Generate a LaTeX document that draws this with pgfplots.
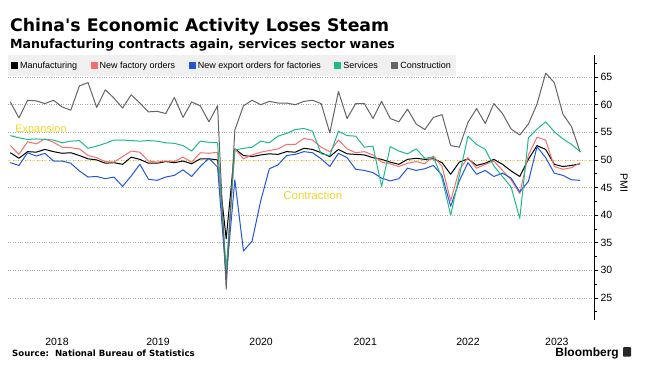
\documentclass[border=0pt]{standalone}
\usepackage{pgfplots}
\usepackage{pgfplotstable}
\pgfplotsset{compat=1.18}
\usepackage{fontspec}
\setmainfont{Liberation Sans}
\newfontfamily\titlefont{DejaVu Sans}
\definecolor{cmfg}{RGB}{0,0,0}
\definecolor{cord}{RGB}{245,110,110}
\definecolor{cexp}{RGB}{34,85,220}
\definecolor{csvc}{RGB}{30,186,140}
\definecolor{ccon}{RGB}{100,100,100}
\definecolor{cyel}{RGB}{242,214,40}
\definecolor{cyeldash}{RGB}{248,228,110}
\definecolor{clegbg}{RGB}{240,240,240}

\pgfplotstableread{
idx mfg ord exp svc con
0 51.3 52.6 49.5 54.4 60.5
1 50.3 51.0 49.0 54.0 57.6
2 51.5 53.3 51.3 53.7 60.8
3 51.4 52.9 50.7 53.8 60.7
4 51.9 53.8 51.2 53.7 60.2
5 51.5 53.2 49.8 53.6 60.8
6 51.2 52.3 49.8 53.1 59.6
7 51.3 52.2 49.4 53.4 59.0
8 50.8 52.0 48.0 53.5 63.4
9 50.2 50.8 46.9 52.1 64.0
10 50.0 50.4 47.0 52.5 59.5
11 49.4 49.7 46.6 53.0 62.7
12 49.5 49.6 46.9 53.6 61.2
13 49.2 50.6 45.2 53.6 59.4
14 50.5 51.6 47.1 53.5 61.8
15 50.1 51.4 49.2 53.4 60.3
16 49.4 49.8 46.5 53.5 58.7
17 49.4 49.6 46.3 53.4 58.8
18 49.7 49.8 46.9 53.1 58.4
19 49.5 49.7 47.2 53.0 61.3
20 49.8 50.5 48.2 52.6 57.7
21 49.3 49.6 47.0 51.6 60.5
22 50.2 51.3 48.8 53.4 59.8
23 50.2 51.2 50.3 53.2 56.9
24 50.0 51.4 48.7 53.1 59.8
25 35.7 29.3 28.7 30.1 26.6
26 52.0 52.0 46.4 51.8 55.4
27 50.8 50.2 33.5 52.1 59.8
28 50.6 50.9 35.3 52.3 60.8
29 50.9 51.4 42.6 53.4 60.0
30 51.1 51.7 48.4 53.1 60.6
31 51.0 52.0 49.1 54.3 60.3
32 51.5 52.8 50.8 54.8 60.3
33 51.4 52.8 51.0 55.5 60.0
34 52.1 53.9 51.5 55.7 60.6
35 51.9 53.6 51.3 55.2 60.8
36 51.3 52.3 50.2 51.1 60.2
37 50.6 51.5 48.8 50.8 54.9
38 51.9 53.6 51.2 55.2 62.4
39 51.1 52.0 50.4 54.4 57.5
40 51.0 51.3 48.3 54.3 60.2
41 50.9 51.5 48.1 52.3 60.2
42 50.4 50.9 47.7 52.5 57.5
43 50.1 49.6 46.7 45.2 60.6
44 49.6 49.3 46.2 52.4 57.5
45 49.2 48.8 46.6 51.6 56.9
46 50.1 49.4 48.5 51.1 59.2
47 50.3 49.7 48.1 52.0 56.5
48 50.1 49.3 48.4 50.3 55.5
49 50.2 50.7 49.0 50.5 57.7
50 49.5 48.8 47.2 46.7 58.2
51 47.4 42.6 41.6 40.0 52.6
52 49.6 48.2 46.2 47.1 52.3
53 50.2 50.4 49.5 54.3 56.8
54 49.0 48.5 47.4 52.8 59.3
55 49.4 49.2 48.1 51.9 56.6
56 50.1 49.8 47.0 48.9 60.2
57 49.2 48.1 47.6 47.0 58.4
58 48.0 46.4 46.7 45.1 55.6
59 47.0 43.9 44.2 39.4 54.5
60 50.1 50.9 46.1 54.0 56.5
61 52.6 54.1 52.4 55.6 60.1
62 51.9 53.6 50.4 56.9 65.7
63 49.2 48.8 47.6 55.1 64.0
64 48.8 48.3 47.2 53.8 58.3
65 49.0 48.6 46.4 52.8 56.0
66 49.3 49.5 46.3 51.5 51.4
}\datatable

\begin{document}
\begin{tikzpicture}[x=1pt,y=1pt]
\useasboundingbox (0pt,0pt) rectangle (647pt,385pt);
\node[anchor=base west, inner sep=0pt, font=\titlefont\bfseries\fontsize{17.3}{20}\selectfont] at (10pt,353.3pt) {China's Economic Activity Loses Steam};
\node[anchor=base west, inner sep=0pt, font=\titlefont\bfseries\fontsize{12.6}{15}\selectfont] at (10pt,336.7pt) {Manufacturing contracts again, services sector wanes};
\begin{axis}[
  at={(8pt,330pt)}, anchor=north west,
  scale only axis, width=586pt, height=264.5pt,
  xmin=-0.27, xmax=67.6, ymin=21.1, ymax=69,
  axis x line=bottom, axis y line=right,
  axis line style={-},
  x axis line style={draw=none},
  y axis line style={black, line width=0.8pt},
  xtick={5.4,17.1,29.05,41.1,53.0,63.3},
  xticklabels={2018,2019,2020,2021,2022,2023},
  xtick style={draw=none},
  xticklabel style={anchor=base, yshift=-21.8pt, font=\fontsize{10.5}{12}\selectfont},
  ytick={25,30,...,65},
  minor ytick={22.5,27.5,...,67.5},
  tick align=outside,
  major tick length=4pt, minor tick length=2.5pt,
  ytick style={black, line width=0.6pt},
  minor tick style={black, line width=0.5pt},
  yticklabel style={font=\fontsize{10.5}{12}\selectfont, xshift=-1pt},
  /pgf/number format/assume math mode=true,
  ymajorgrids,
  grid style={dotted, gray!70, line width=0.6pt},
  clip=false,
  legend columns=5,
  legend style={at={(0,1)}, anchor=north west, fill=clegbg, draw=none,
    font=\fontsize{9}{10}\selectfont, inner xsep=3pt, inner ysep=4.5pt,
    /tikz/every even column/.append style={column sep=11.5pt}},
  legend image code/.code={\fill[#1] (0pt,-3pt) rectangle (6pt,3pt);},
  every axis plot/.append style={line width=1pt, line join=round, no markers},
]
\addplot[cyeldash, dashed, line width=0.7pt, forget plot] coordinates {(-0.27,50) (67.6,50)};
\addplot[cmfg] table[x=idx, y=mfg] {\datatable};
\addlegendentry{Manufacturing}
\addplot[cord] table[x=idx, y=ord] {\datatable};
\addlegendentry{New factory orders}
\addplot[cexp] table[x=idx, y=exp] {\datatable};
\addlegendentry{New export orders for factories}
\addplot[csvc] table[x=idx, y=svc] {\datatable};
\addlegendentry{Services}
\addplot[ccon] table[x=idx, y=con] {\datatable};
\addlegendentry{Construction}
\node[anchor=west, text=cyel, font=\fontsize{11}{13}\selectfont, inner sep=0pt] at (axis cs:0.55,55.4) {Expansion};
\node[anchor=west, text=cyel, font=\fontsize{11.5}{13}\selectfont, inner sep=0pt] at (axis cs:31.6,43.5) {Contraction};
\end{axis}
\node[rotate=-90, font=\fontsize{10.5}{12}\selectfont, inner sep=0pt] at (624pt,202pt) {PMI};
\node[anchor=base west, inner sep=0pt, font=\titlefont\bfseries\fontsize{8.6}{10}\selectfont] at (12pt,28.3pt) {Source:\ \ National Bureau of Statistics};
\node[anchor=base east, inner sep=0pt, font=\bfseries\fontsize{12}{14}\selectfont] at (619pt,28.3pt) {Bloomberg};
\fill[black!85, rounded corners=0.8pt] (623pt,28.3pt) rectangle (631pt,37.8pt);
\end{tikzpicture}
\end{document}
